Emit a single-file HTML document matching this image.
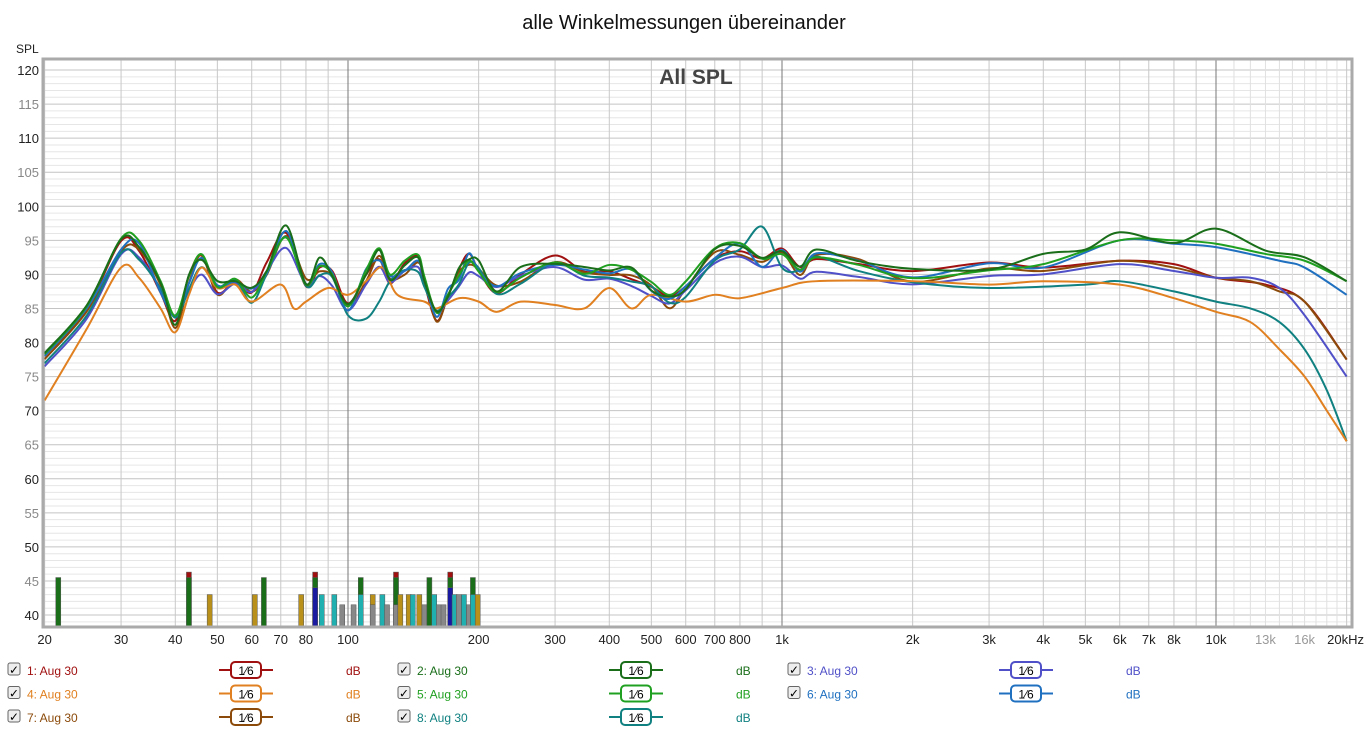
<!DOCTYPE html>
<html><head><meta charset="utf-8"><style>
body{margin:0;background:#fff;font-family:"Liberation Sans",sans-serif;}
svg{display:block}
</style></head><body>
<svg id="s" width="1369" height="732" xmlns="http://www.w3.org/2000/svg" font-family="Liberation Sans, sans-serif"></svg>
<script>
const S=document.getElementById('s');
let h='';
const X=f=>348+434*Math.log10(f/100);
const Y=d=>70+(120-d)*6.8125;
const L=44,R=1351,T=60,B=626;
h+=`<text x="684" y="29" font-size="20" text-anchor="middle" fill="#111">alle Winkelmessungen übereinander</text>`;
h+=`<text x="16" y="53" font-size="12" fill="#222">SPL</text>`;
for(let d=39;d<=120;d++){const y=Y(d);if(y<T||y>B)continue;
 h+=`<line x1="${L}" x2="${R}" y1="${y}" y2="${y}" stroke="${d%5==0?'#c4c4c4':'#e6e6e6'}" stroke-width="1"/>`;
 if(d%5==0)h+=`<text x="39" y="${y+5}" font-size="13" text-anchor="end" fill="${d%10==0?'#222':'#888'}">${d}</text>`;}
const vf=[];for(let dec of [10,100,1000,10000])for(let m=1;m<10;m++){const f=dec*m;if(f>=20&&f<=20000)vf.push(f);}
for(let f=11000;f<20000;f+=1000)vf.push(f);
for(let f of vf){const x=X(f);let c='#c8c8c8';if([100,1000,10000].includes(f))c='#777';else if(f>10000&&!([20000].includes(f)))c='#e0e0e0';
 h+=`<line x1="${x}" x2="${x}" y1="${T}" y2="${B}" stroke="${c}"/>`;}
const xl=[[20,'20'],[30,'30'],[40,'40'],[50,'50'],[60,'60'],[70,'70'],[80,'80'],[100,'100'],[200,'200'],[300,'300'],[400,'400'],[500,'500'],[600,'600'],[700,'700'],[800,'800'],[1000,'1k'],[2000,'2k'],[3000,'3k'],[4000,'4k'],[5000,'5k'],[6000,'6k'],[7000,'7k'],[8000,'8k'],[10000,'10k'],[13000,'13k'],[16000,'16k']];
for(let [f,t] of xl)h+=`<text x="${X(f)}" y="644" font-size="13" text-anchor="middle" fill="${f>10000?'#999':'#222'}">${t}</text>`;
h+=`<text x="1364" y="644" font-size="13" text-anchor="end" fill="#222">20kHz</text>`;
h+=`<text x="696" y="84" font-size="21" font-weight="bold" text-anchor="middle" fill="#444">All SPL</text>`;
const bars=[[21.5,45.5,'#1a6e1a'],[43,46.3,'#a01010'],[43,45.5,'#1a6e1a'],[48,43,'#b8901a'],[61,43,'#b8901a'],[64,45.5,'#1a6e1a'],[78,43,'#b8901a'],[84,46.3,'#a01010'],[84,45.5,'#1a6e1a'],[84,44,'#1a1aa0'],[87,43,'#20b0b0'],[93,43,'#20b0b0'],[97,41.5,'#888'],[103,41.5,'#888'],[107,45.5,'#1a6e1a'],[107,43,'#20b0b0'],[114,43,'#b8901a'],[114,41.5,'#888'],[120,43,'#20b0b0'],[123,41.5,'#888'],[129,46.3,'#a01010'],[129,45.5,'#1a6e1a'],[129,41.5,'#888'],[132,43,'#b8901a'],[138,43,'#b8901a'],[141,43,'#20b0b0'],[146,43,'#b8901a'],[150,41.5,'#888'],[154,45.5,'#1a6e1a'],[158,43,'#20b0b0'],[162,41.5,'#888'],[166,41.5,'#888'],[172,46.3,'#a01010'],[172,45.5,'#1a6e1a'],[172,44,'#1a1aa0'],[176,43,'#20b0b0'],[180,43,'#888'],[185,43,'#20b0b0'],[190,41.5,'#888'],[194,45.5,'#1a6e1a'],[194,43,'#20b0b0'],[199,43,'#b8901a']];
for(let [f,d,c] of bars){const x=X(f)-2.5,y=Y(d);h+=`<rect x="${x}" y="${y}" width="5" height="${B-y}" fill="${c}" stroke="#555" stroke-width="0.5"/>`;}
const base=[[20,78],[25,85],[30,94.5],[33,94],[37,88],[40,83],[43,89],[46,92.5],[50,88],[55,89.5],[60,87],[65,91],[72,96],[80,89],[86,91.5],[92,90],[100,85],[110,90],[118,93],[125,89],[135,91],[145,92],[150,89],[160,84],[170,87],[180,90],[190,92.5],[200,91],[220,88],[250,90],[300,92],[350,90],[400,91],[450,90],[500,88],[550,86],[600,88],[700,93],[800,94],[900,92],[1000,93],[1100,91],[1200,93],[1500,92],[2000,90],[3000,91],[4000,92],[5000,94],[6000,95],[8000,95],[10000,95.5],[13000,93.5],[16000,92.5],[20000,89]];
function mod(sc,off,hi,seed){return base.map(([f,d],i)=>{let v=f<=10000&&f>=20?(d-90)*sc+90+off+Math.sin(i*seed)*0.8:d;if(f<=25)v=d*1+off*1.5;return [f,v];}).filter(p=>!hi||p[0]<hi[0][0]).concat(hi||[]);}
function ov(pts,o){return pts.map(([f,d])=>[f,o[f]!==undefined?o[f]:d]);}
const ser=[
 ['#a01010',mod(1,0,[[4000,91],[6000,92],[8000,91.5],[10000,89.5],[13000,88.5],[16000,86],[20000,77.5]],1.3)],
 ['#8b4a0a',mod(0.98,-0.3,[[4000,90.5],[6000,92],[8000,91],[10000,89.5],[12000,89],[14000,87.5],[16000,86],[20000,77.5]],2.1)],
 ['#5050c8',mod(0.7,-1,[[4000,90],[6000,91.5],[8000,90.5],[10000,89.5],[12000,89.5],[14000,88],[16000,84],[20000,75]],0.7)],
 ['#108080',ov(mod(0.9,-0.7,[[3000,88],[5000,88.5],[6000,89],[8000,87.5],[10000,86],[12000,85],[14000,83],[16000,79],[18000,73],[20000,65.5]],1.7),{100:84,110:83.5,118:86,900:97,1000:91})],
 ['#e08020',[[20,71.5],[25,82],[30,91],[33,89.5],[37,85],[40,81.5],[43,87],[46,91],[50,88],[55,88.5],[60,86],[70,88.5],[75,85],[80,86],[90,88],[100,87],[110,89],[120,91],[130,87],[150,86],[160,85],[180,86.5],[200,86],[220,84.5],[250,86],[300,85.5],[350,85],[400,88],[450,85],[500,87],[600,86],[700,87],[800,86.5],[1000,88],[1200,89],[2000,89],[3000,88.5],[4000,89],[6000,88.5],[8000,86.5],[10000,84.5],[12000,83],[14000,79],[16000,75],[18000,70],[20000,65.5]]],
 ['#2070c0',mod(0.95,0,[[4000,91],[6000,95],[8000,94.5],[10000,94],[14000,92],[16000,91],[20000,87]],2.7)],
 ['#20a020',mod(1,0.2,[[4000,91.5],[6000,95],[8000,95],[10000,94.5],[13000,93],[16000,92],[20000,89]],0.4)],
 ['#1a6e1a',mod(1.02,0.3,null,3.3)]];
function path(pts){const p=pts.map(([f,d])=>[X(f),Y(d)]);let s=`M${p[0][0]},${p[0][1]}`;
 for(let i=0;i<p.length-1;i++){const p0=p[i-1]||p[i],p1=p[i],p2=p[i+1],p3=p[i+2]||p2;
 s+=` C${p1[0]+(p2[0]-p0[0])/6},${p1[1]+(p2[1]-p0[1])/6} ${p2[0]-(p3[0]-p1[0])/6},${p2[1]-(p3[1]-p1[1])/6} ${p2[0]},${p2[1]}`;}return s;}
h+=`<g clip-path="url(#c)">`;
for(let [c,p] of ser)h+=`<path d="${path(p)}" fill="none" stroke="${c}" stroke-width="2"/>`;
h+=`</g><defs><clipPath id="c"><rect x="${L}" y="${T}" width="${R-L}" height="${B-T}"/></clipPath></defs>`;
h+=`<rect x="${L-1}" y="${T-1}" width="${R-L+2}" height="${B-T+2}" fill="none" stroke="#aaa" stroke-width="3"/>`;
const leg=[['1: Aug 30','#a01010'],['2: Aug 30','#1a6e1a'],['3: Aug 30','#5050c8'],['4: Aug 30','#e08020'],['5: Aug 30','#20a020'],['6: Aug 30','#2070c0'],['7: Aug 30','#8b4a0a'],['8: Aug 30','#108080']];
leg.forEach(([t,c],i)=>{const col=i%3,row=Math.floor(i/3);const ox=col*390,y=670+row*23.5;
 h+=`<rect x="${ox+8}" y="${y-7}" width="12" height="12" fill="#eee" stroke="#666" rx="2"/><text x="${ox+9}" y="${y+4}" font-size="12" fill="#000">✓</text>`;
 h+=`<text x="${ox+27}" y="${y+5}" font-size="12" fill="${c}">${t}</text>`;
 h+=`<line x1="${ox+219}" x2="${ox+273}" y1="${y}" y2="${y}" stroke="${c}" stroke-width="2"/><rect x="${ox+231}" y="${y-8}" width="30" height="16" rx="4" fill="#fff" stroke="${c}" stroke-width="2"/><text x="${ox+246}" y="${y+5}" font-size="12" text-anchor="middle" fill="#000">1⁄6</text>`;
 h+=`<text x="${ox+346}" y="${y+5}" font-size="12" fill="${c}">dB</text>`;});
S.innerHTML=h;
</script>
</body></html>
